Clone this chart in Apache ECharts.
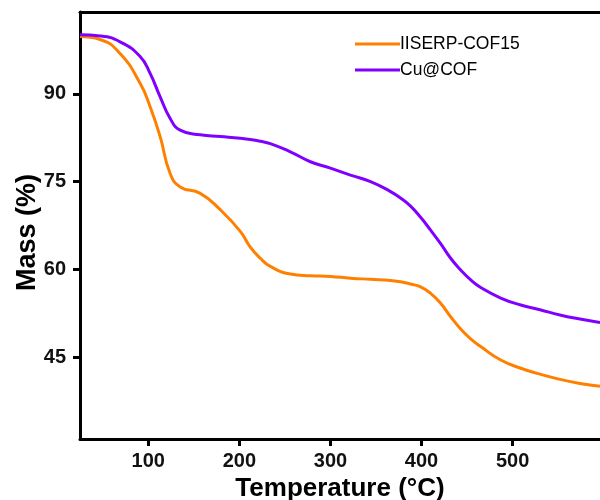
<!DOCTYPE html>
<html>
<head>
<meta charset="utf-8">
<script src="https://cdn.jsdelivr.net/npm/echarts@6/dist/echarts.min.js"></script>
<style>
  html, body { margin: 0; padding: 0; background: #fff; }
  #chart { width: 600px; height: 500px; }
</style>
</head>
<body>
<div id="chart"></div>
<script>
// temperature (°C) sample points
var temps = [25, 47, 69, 91, 102, 113, 124, 135, 157, 179, 201, 212, 223, 234, 256, 278, 300,
             322, 344, 366, 377, 388, 399, 410, 421, 432, 443, 454, 465, 487, 509, 530, 552, 574, 596];
// IISERP-COF15 mass (%)
var cof15 = [99.8, 99.3, 96.9, 91.8, 87.8, 82.7, 76.4, 74.1, 73.0, 70.2, 66.5, 63.8, 61.9, 60.5, 59.2, 58.9, 58.8,
             58.5, 58.3, 58.1, 57.9, 57.5, 57.0, 55.9, 54.2, 51.9, 49.8, 48.1, 46.8, 44.5, 43.1, 42.1, 41.2, 40.5, 40.0];
// Cu@COF mass (%)
var cuCof = [100.1, 99.9, 98.9, 96.4, 93.5, 89.5, 85.8, 83.8, 83.0, 82.7, 82.4, 82.2, 81.9, 81.5, 80.1, 78.4, 77.3,
             76.1, 75.0, 73.3, 72.2, 70.8, 68.9, 66.7, 64.4, 61.9, 59.9, 58.2, 56.9, 55.1, 53.9, 53.1, 52.2, 51.5, 50.9];
var xTicks = [100, 200, 300, 400, 500];
var yTicks = [45, 60, 75, 90];

function pairs(xs, ys) {
    return xs.map(function (x, i) { return [x, ys[i]]; });
}

var font = "'Liberation Sans', Arial, sans-serif";
var chart = echarts.init(document.getElementById('chart'));
chart.setOption({
    animation: false,
    backgroundColor: '#fff',
    grid: {
        left: 80, top: 12, right: 0, bottom: 61,
        outerBoundsMode: 'none'
    },
    legend: {
        orient: 'vertical',
        left: 350, top: 30,
        itemWidth: 45, itemHeight: 3, itemGap: 8,
        icon: 'rect',
        textStyle: { fontFamily: font, fontSize: 17.5, color: '#000', padding: [0, 0, 0, -5] },
        data: ['IISERP-COF15', 'Cu@COF']
    },
    xAxis: [{
        type: 'value',
        min: 25, max: 596,
        name: 'Temperature (°C)',
        nameLocation: 'middle',
        nameGap: 36,
        nameTextStyle: { fontFamily: font, fontSize: 26, fontWeight: 'bold', color: '#000' },
        axisLine: { lineStyle: { color: '#000', width: 3 } },
        axisTick: { show: true, length: 7, lineStyle: { color: '#000', width: 3 }, customValues: xTicks },
        axisLabel: { fontFamily: font, fontSize: 20, fontWeight: 'bold', color: '#111', margin: 12, customValues: xTicks },
        splitLine: { show: false }
    }, {
        // top frame line only
        type: 'value',
        position: 'top',
        min: 25, max: 596,
        axisLine: { show: true, lineStyle: { color: '#000', width: 3 } },
        axisTick: { show: false },
        axisLabel: { show: false },
        splitLine: { show: false }
    }],
    yAxis: {
        type: 'value',
        min: 31, max: 104,
        name: 'Mass (%)',
        nameLocation: 'middle',
        nameGap: 39,
        nameMoveOverlap: false,
        nameTextStyle: { fontFamily: font, fontSize: 27, fontWeight: 'bold', color: '#000', padding: [0, 14, 0, 0] },
        axisLine: { lineStyle: { color: '#000', width: 3 } },
        axisTick: { show: true, length: 7, lineStyle: { color: '#000', width: 3 }, customValues: yTicks },
        axisLabel: { fontFamily: font, fontSize: 20, fontWeight: 'bold', color: '#111', margin: 14, customValues: yTicks },
        splitLine: { show: false }
    },
    series: [
        {
            name: 'IISERP-COF15',
            type: 'line',
            smooth: 0.5,
            showSymbol: false,
            data: pairs(temps, cof15),
            lineStyle: { color: '#FF8000', width: 3 },
            itemStyle: { color: '#FF8000' }
        },
        {
            name: 'Cu@COF',
            type: 'line',
            smooth: 0.5,
            showSymbol: false,
            data: pairs(temps, cuCof),
            lineStyle: { color: '#8000FF', width: 3 },
            itemStyle: { color: '#8000FF' }
        }
    ]
});
</script>
</body>
</html>
